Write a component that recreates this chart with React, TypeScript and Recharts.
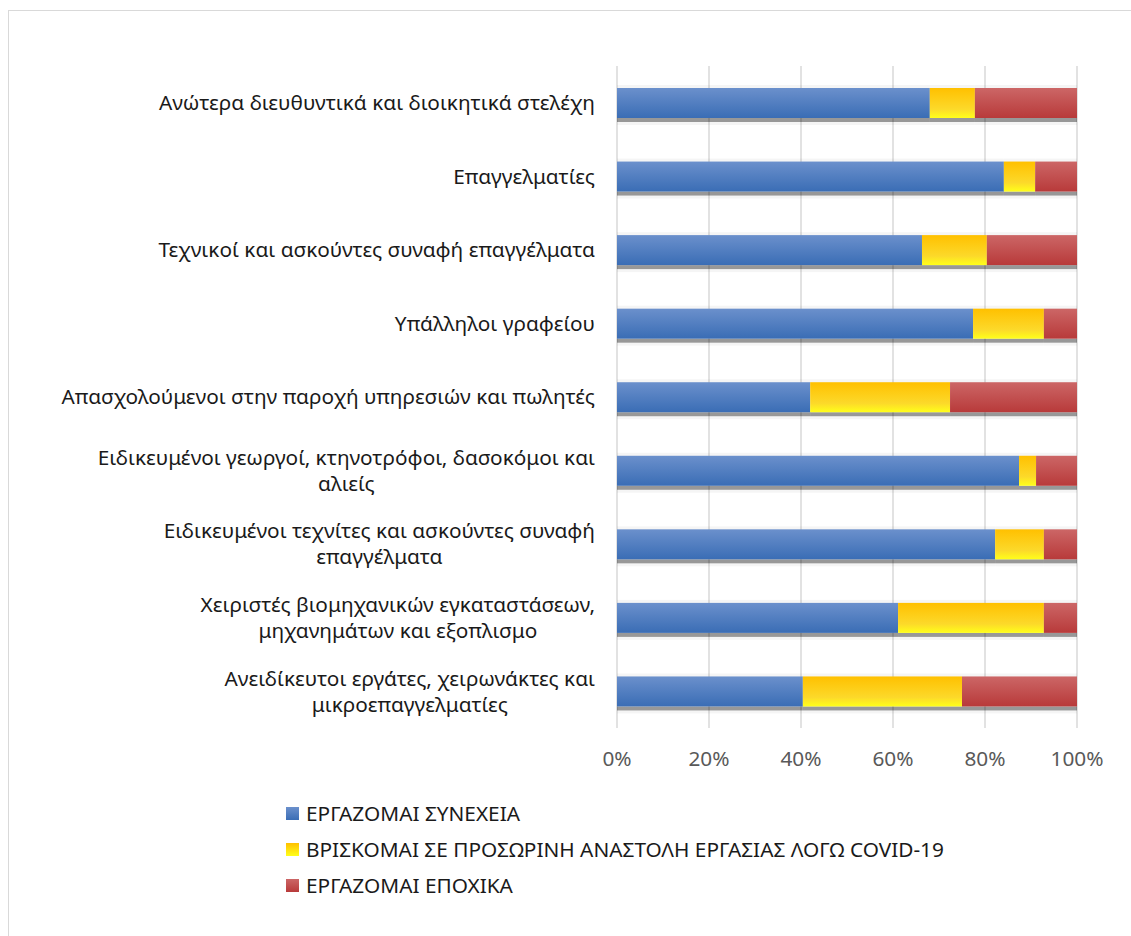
import { Bar, BarChart, CartesianGrid, XAxis, YAxis } from "recharts";

const categories = [
  "Ανώτερα διευθυντικά και διοικητικά στελέχη",
  "Επαγγελματίες",
  "Τεχνικοί και ασκούντες συναφή επαγγέλματα",
  "Υπάλληλοι γραφείου",
  "Απασχολούμενοι στην παροχή υπηρεσιών και πωλητές",
  "Ειδικευμένοι γεωργοί, κτηνοτρόφοι, δασοκόμοι και\nαλιείς",
  "Ειδικευμένοι τεχνίτες και ασκούντες συναφή\nεπαγγέλματα",
  "Χειριστές βιομηχανικών εγκαταστάσεων,\nμηχανημάτων και εξοπλισμο",
  "Ανειδίκευτοι εργάτες, χειρωνάκτες και\nμικροεπαγγελματίες",
];

const working = [68.0, 84.1, 66.3, 77.4, 42.0, 87.4, 82.2, 61.1, 40.4];
const suspended = [9.8, 6.8, 14.1, 15.4, 30.4, 3.7, 10.6, 31.7, 34.6];
const seasonal = [22.2, 9.1, 19.6, 7.2, 27.6, 8.9, 7.2, 7.2, 25.0];

const xTicks = [0, 20, 40, 60, 80, 100];

const seriesNames = [
  "ΕΡΓΑΖΟΜΑΙ ΣΥΝΕΧΕΙΑ",
  "ΒΡΙΣΚΟΜΑΙ ΣΕ ΠΡΟΣΩΡΙΝΗ ΑΝΑΣΤΟΛΗ ΕΡΓΑΣΙΑΣ ΛΟΓΩ COVID-19",
  "ΕΡΓΑΖΟΜΑΙ ΕΠΟΧΙΚΑ",
];

const data = categories.map((name, i) => ({
  name,
  working: working[i],
  suspended: suspended[i],
  seasonal: seasonal[i],
}));

const FONT = "'Noto Sans', sans-serif";
const FONT_SIZE = 20.8;

let ctx: CanvasRenderingContext2D | null = null;
function measure(text: string) {
  if (!ctx) ctx = document.createElement("canvas").getContext("2d");
  if (!ctx) return text.length * FONT_SIZE * 0.5;
  ctx.font = `${FONT_SIZE}px ${FONT}`;
  return ctx.measureText(text).width;
}

// labels of two lines are centred on each other, the block is right aligned
function CategoryTick(props: any) {
  const { x, y, payload } = props;
  const lines = String(payload.value).split("\n");
  const w = Math.max(...lines.map(measure));
  const cx = x - w / 2;
  const lh = 26;
  const y0 = y - ((lines.length - 1) * lh) / 2;
  return (
    <text x={cx} y={y0} textAnchor="middle" fontSize={FONT_SIZE} fontFamily={FONT} fill="#1a1a1a">
      {lines.map((l, i) => (
        <tspan key={i} x={cx} y={y0 + i * lh} dy="0.35em">
          {l}
        </tspan>
      ))}
    </text>
  );
}

function ShadowBar(props: any) {
  const { x, y, width, height, fill } = props;
  if (!width || width <= 0) return null;
  return (
    <g>
      <rect x={x} y={y - 3} width={width} height={height + 10} fill="#000" opacity={0.04} />
      <rect x={x} y={y + height} width={width} height={4} fill="#000" opacity={0.38} />
      <rect x={x} y={y} width={width} height={height} fill={fill} />
    </g>
  );
}

const fills = ["url(#gBlue)", "url(#gYellow)", "url(#gRed)"];
const swatch = [
  "linear-gradient(#6b90cc, #3a6db5)",
  "linear-gradient(#ffc000, #ffff1a)",
  "linear-gradient(#cc6666, #b83a3a)",
];

function LegendBox() {
  return (
    <div
      style={{
        position: "absolute",
        left: 286,
        top: 795,
        fontFamily: FONT,
        fontSize: FONT_SIZE,
        color: "#1a1a1a",
      }}
    >
      {seriesNames.map((n, i) => (
        <div key={n} style={{ display: "flex", alignItems: "center", height: 36 }}>
          <span style={{ width: 13, height: 13, background: swatch[i], marginRight: 7 }} />
          <span>{n}</span>
        </div>
      ))}
    </div>
  );
}

export default function App() {
  return (
    <div style={{ position: "relative", width: 1131, height: 936, background: "#fff" }}>
      <style>{"body{margin:0;overflow:hidden;background:#fff}"}</style>
      <div
        style={{
          position: "absolute",
          left: 8,
          top: 10,
          width: 1140,
          height: 940,
          border: "1px solid #d9d9d9",
        }}
      />
      <div style={{ position: "absolute", left: 0, top: 0 }}>
        <BarChart
          width={1131}
          height={936}
          data={data}
          layout="vertical"
          stackOffset="expand"
          barSize={30}
          margin={{ top: 66, right: 54, bottom: 168, left: 0 }}
        >
          <defs>
            <linearGradient id="gBlue" x1="0" y1="0" x2="0" y2="1">
              <stop offset="0%" stopColor="#6b90cc" />
              <stop offset="100%" stopColor="#3a6db5" />
            </linearGradient>
            <linearGradient id="gYellow" x1="0" y1="0" x2="0" y2="1">
              <stop offset="0%" stopColor="#ffc000" />
              <stop offset="70%" stopColor="#fcd92a" />
              <stop offset="100%" stopColor="#ffff1a" />
            </linearGradient>
            <linearGradient id="gRed" x1="0" y1="0" x2="0" y2="1">
              <stop offset="0%" stopColor="#cc6666" />
              <stop offset="100%" stopColor="#b83a3a" />
            </linearGradient>
          </defs>
          <CartesianGrid horizontal={false} stroke="#d9d9d9" strokeWidth={1.5} />
          <XAxis
            type="number"
            domain={[0, 1]}
            ticks={xTicks.map((t) => t / 100)}
            tickFormatter={(v: number) => `${Math.round(v * 100)}%`}
            axisLine={false}
            tickLine={false}
            tickMargin={17}
            height={40}
            tick={{ fill: "#595959", fontSize: FONT_SIZE, fontFamily: FONT }}
          />
          <YAxis
            type="category"
            dataKey="name"
            width={617}
            axisLine={false}
            tickLine={false}
            tickMargin={16}
            interval={0}
            tick={<CategoryTick />}
          />
          <Bar dataKey="working" name={seriesNames[0]} stackId="a" fill={fills[0]} shape={<ShadowBar />} isAnimationActive={false} />
          <Bar dataKey="suspended" name={seriesNames[1]} stackId="a" fill={fills[1]} shape={<ShadowBar />} isAnimationActive={false} />
          <Bar dataKey="seasonal" name={seriesNames[2]} stackId="a" fill={fills[2]} shape={<ShadowBar />} isAnimationActive={false} />
        </BarChart>
      </div>
      <LegendBox />
    </div>
  );
}
